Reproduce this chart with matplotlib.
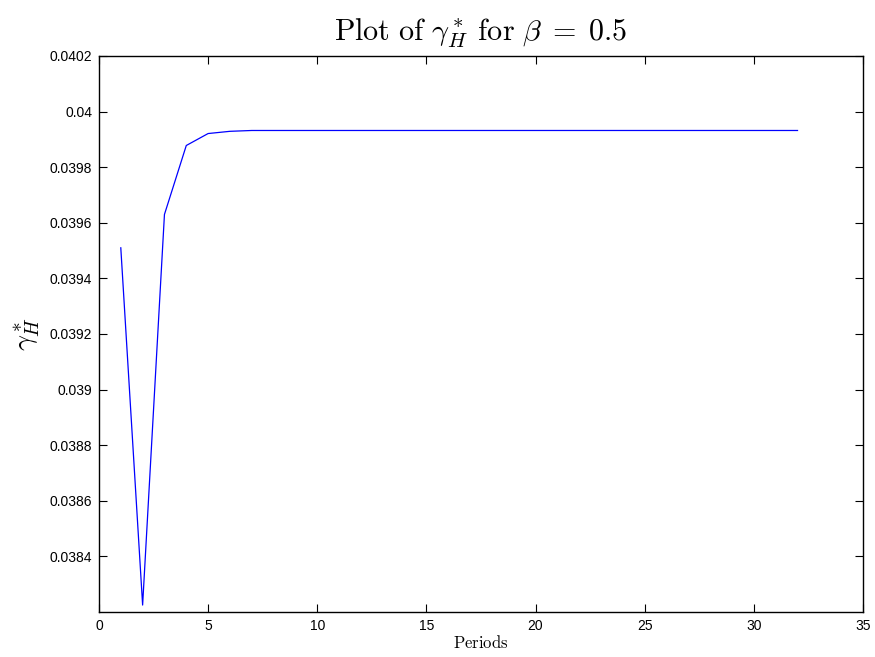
import matplotlib
matplotlib.use('Agg')
import matplotlib.pyplot as plt

# gamma_H* per period
periods = list(range(1, 33))
gamma_h = [0.03951, 0.038225, 0.03963, 0.039878, 0.039921, 0.039929] + [0.039932] * 26

x_ticks = [0, 5, 10, 15, 20, 25, 30, 35]
y_ticks = [0.0384, 0.0386, 0.0388, 0.039, 0.0392, 0.0394, 0.0396, 0.0398, 0.04, 0.0402]
y_labels = ['0.0384', '0.0386', '0.0388', '0.039', '0.0392', '0.0394',
            '0.0396', '0.0398', '0.04', '0.0402']

plt.rcParams['mathtext.fontset'] = 'cm'
plt.rcParams['font.family'] = ['Liberation Sans', 'DejaVu Sans']

fig = plt.figure(figsize=(8.75, 6.57), dpi=100)
ax = fig.add_axes([0.1131, 0.0685, 0.8732, 0.8463])

ax.plot(periods, gamma_h, color='blue', linewidth=0.9)

ax.set_xlim(0, 35)
ax.set_ylim(0.03820, 0.0402)
ax.set_xticks(x_ticks)
ax.set_xticklabels([str(t) for t in x_ticks])
ax.set_yticks(y_ticks)
ax.set_yticklabels(y_labels)
ax.tick_params(direction='in', length=6, width=0.8, labelsize=10,
               top=True, right=True, pad=5)
for s in ax.spines.values():
    s.set_linewidth(1.0)

ax.set_title(r'$\mathrm{Plot\ of\ }\gamma_H^*\mathrm{\ for\ }\beta\;=\;0.5$', fontsize=21.7, pad=11)
ax.set_xlabel(r'$\mathrm{Periods}$', fontsize=12, labelpad=1)
ax.set_ylabel(r'$\gamma_H^*$', fontsize=20, labelpad=5)

fig.savefig('out.png', dpi=100)
